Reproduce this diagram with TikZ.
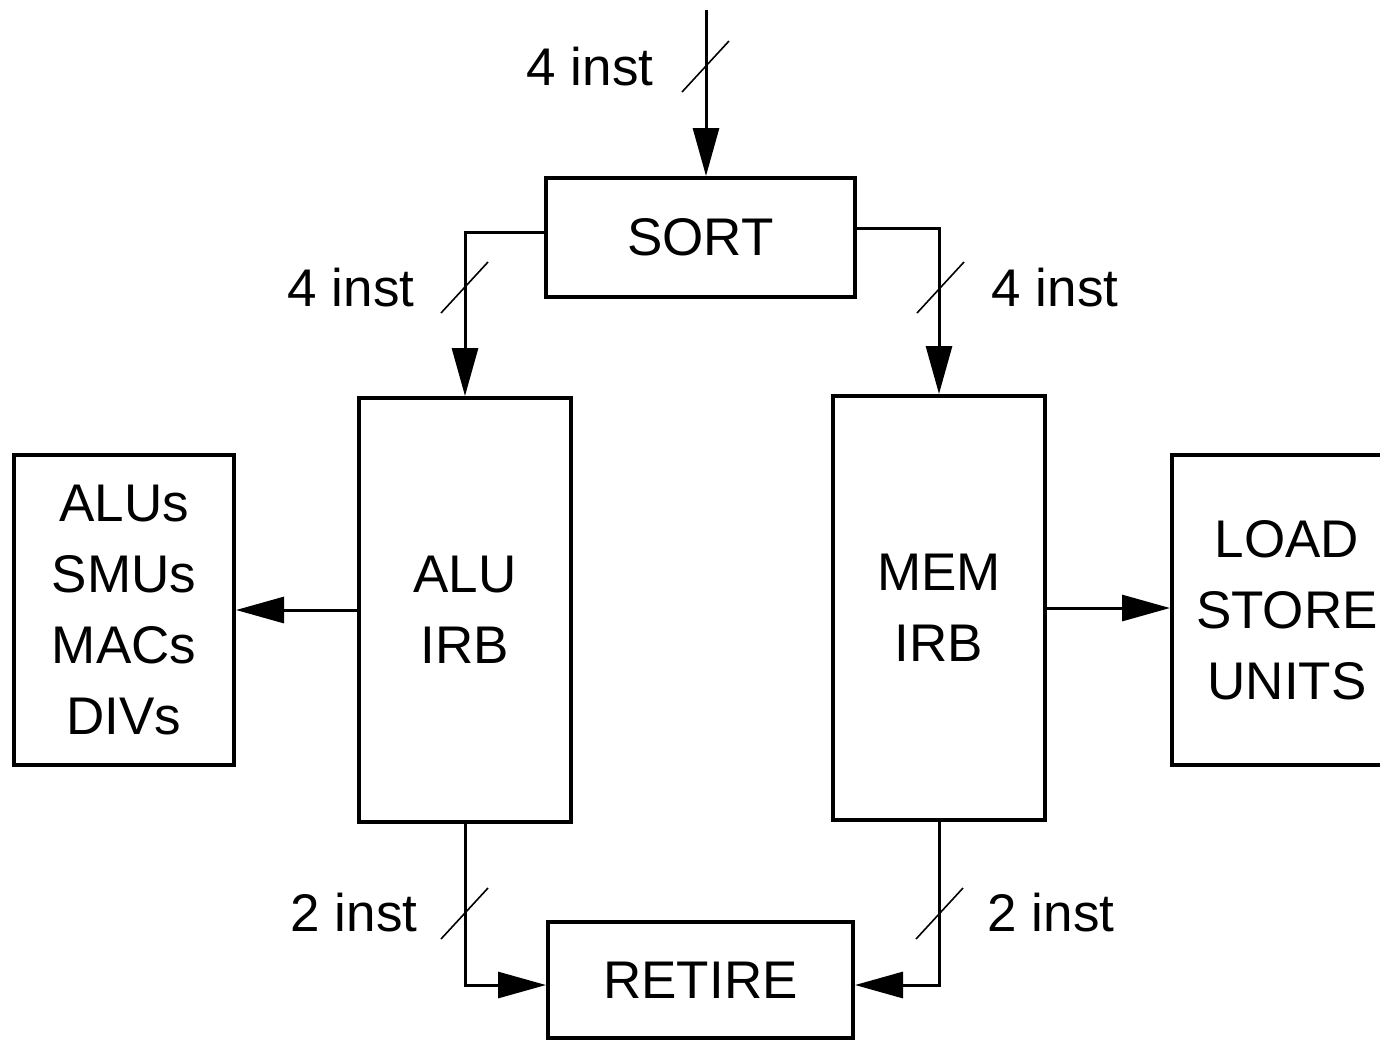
\documentclass[tikz,border=0pt]{standalone}
\usepackage{fontspec}
\setmainfont{Liberation Sans}
\usetikzlibrary{arrows.meta}
\begin{document}
\begin{tikzpicture}[x=0.5pt,y=-0.5pt,
  txt/.style={font=\fontsize{26.5}{35.5}\selectfont, align=center},
  block/.style={draw, line width=2pt, inner sep=0pt, txt},
  conn/.style={line width=1.5pt, -{Triangle[length=24pt,width=13pt]}},
  slash/.style={line width=0.8pt},
  lbl/.style={txt, inner sep=0pt}]
\useasboundingbox (0,0) rectangle (1380,1040);
\clip (0,0) rectangle (1380,1040);

% functional blocks
\node[block, minimum width=154.5pt, minimum height=59.5pt] (sort) at (700.5,237.5) {SORT};
\node[block, minimum width=106pt, minimum height=212pt] (alu) at (465,610) {ALU\\IRB};
\node[block, minimum width=106pt, minimum height=212pt] (mem) at (939,608) {MEM\\IRB};
\node[block, minimum width=110pt, minimum height=155pt] (alus) at (124,610) {ALUs\\SMUs\\MACs\\DIVs};
\node[block, minimum width=119pt, minimum height=155pt] (load) at (1291,610) {};
\node[txt, inner sep=0pt] (loadtxt) at (1287,610) {LOAD\\STORE\\UNITS};
\node[block, minimum width=152.5pt, minimum height=58pt] (retire) at (700.5,980) {RETIRE};

% instruction input
\coordinate (in) at (706,10);
\draw[conn] (in) -- (in |- sort.north);

% sort to the two issue buffers
\draw[conn] ([yshift=2.75pt]sort.west) -| (alu.north);
\draw[conn] ([yshift=4.75pt]sort.east) -| (mem.north);

% issue buffers to execution units
\draw[conn] (alu.west) -- (alus.east);
\draw[conn] (mem.east) -- (mem.east -| load.west);

% issue buffers to retire
\draw[conn] (alu.south) |- ([yshift=-2.5pt]retire.west);
\draw[conn] (mem.south) |- ([yshift=-2.5pt]retire.east);

% bus-width slashes
\coordinate (s1) at (706,67);
\coordinate (s2) at (465,288);
\coordinate (s3) at (941,288);
\coordinate (s4) at (465,914);
\coordinate (s5) at (940,914);
\foreach \s in {s1,s2,s3,s4,s5}
  \draw[slash] ([shift={(-24,25)}]\s) -- ([shift={(23,-26)}]\s);

% bus-width labels
\node[lbl] (l1) at (590,67) {4 inst};
\node[lbl] (l2) at (351,288) {4 inst};
\node[lbl] (l3) at (1055,288) {4 inst};
\node[lbl] (l4) at (354,913) {2 inst};
\node[lbl] (l5) at (1051,913) {2 inst};
\end{tikzpicture}
\end{document}
